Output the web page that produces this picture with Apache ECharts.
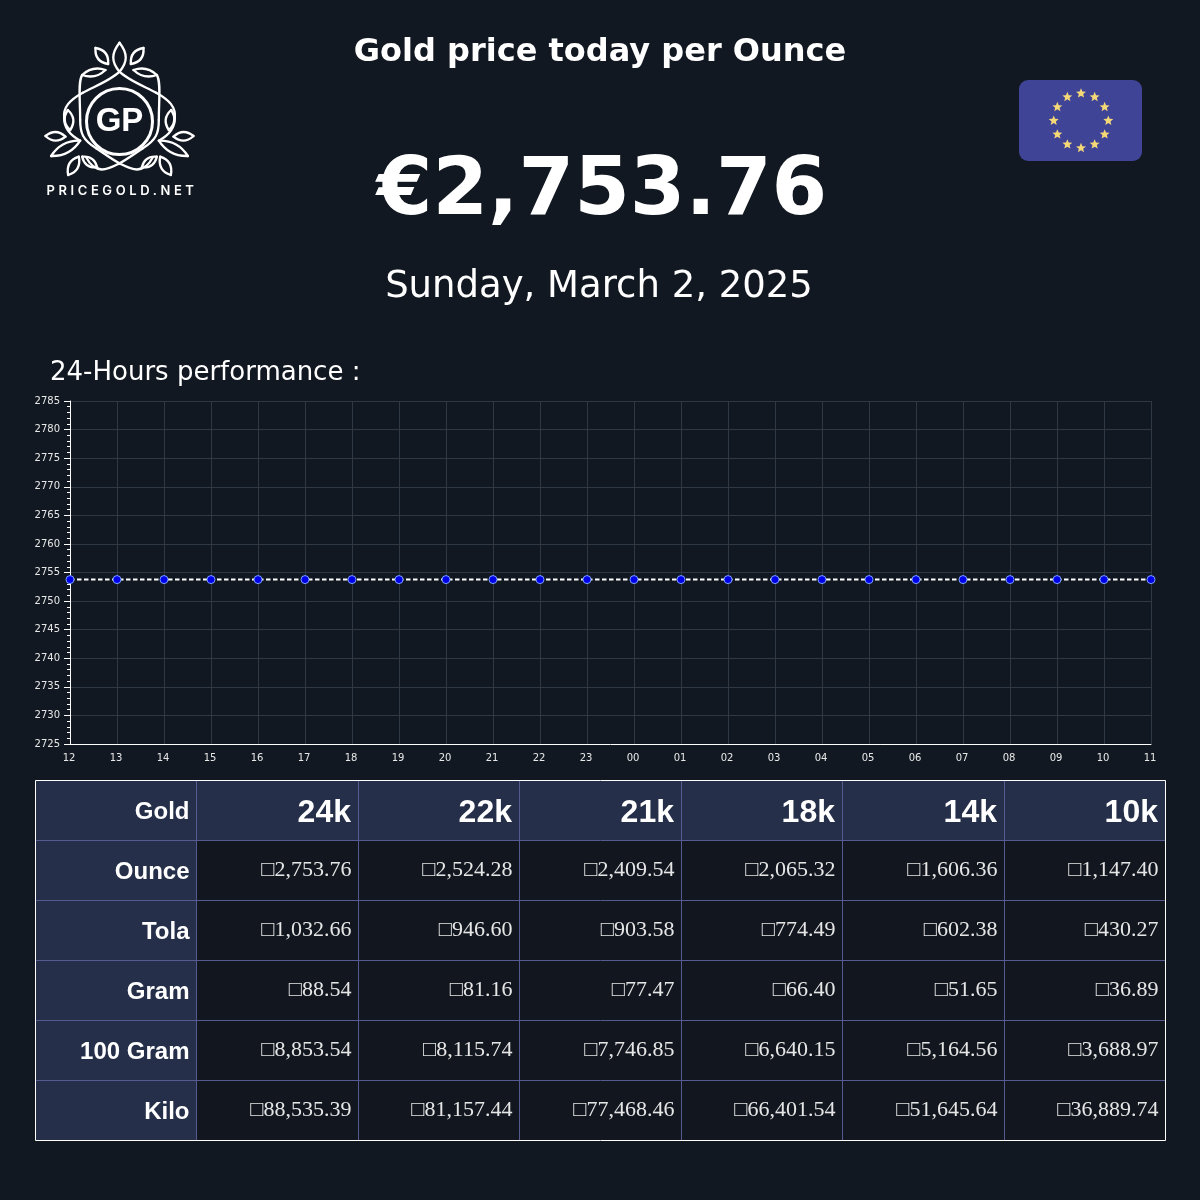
<!DOCTYPE html>
<html>
<head>
<meta charset="utf-8">
<title>Gold price today per Ounce</title>
<script src="https://cdn.jsdelivr.net/npm/echarts@6/dist/echarts.min.js"></script>
<style>
  html, body { margin: 0; padding: 0; background: #121821; }
  #main { width: 1200px; height: 1200px; }
  #brand {
    position: absolute; left: 20px; top: 182px; width: 204px; text-align: center;
    color: #fff; font: 600 13px Inter, sans-serif; letter-spacing: 3.6px;
  }
</style>
</head>
<body>
<div id="main"></div>
<div id="brand">PRICEGOLD.NET</div>
<script>
var hours = ['12','13','14','15','16','17','18','19','20','21','22','23','00','01','02','03','04','05','06','07','08','09','10','11']
var prices = [2753.76,2753.76,2753.76,2753.76,2753.76,2753.76,2753.76,2753.76,2753.76,2753.76,2753.76,2753.76,
  2753.76,2753.76,2753.76,2753.76,2753.76,2753.76,2753.76,2753.76,2753.76,2753.76,2753.76,2753.76]

var karats = ['24k','22k','21k','18k','14k','10k']
var units = ['Ounce','Tola','Gram','100 Gram','Kilo']
var ounceRow = ['2,753.76','2,524.28','2,409.54','2,065.32','1,606.36','1,147.40']
var tolaRow = ['1,032.66','946.60','903.58','774.49','602.38','430.27']
var gramRow = ['88.54','81.16','77.47','66.40','51.65','36.89']
var gram100Row = ['8,853.54','8,115.74','7,746.85','6,640.15','5,164.56','3,688.97']
var kiloRow = ['88,535.39','81,157.44','77,468.46','66,401.54','51,645.64','36,889.74']
var rows = [ounceRow, tolaRow, gramRow, gram100Row, kiloRow]
var missingGlyph = '\u25A1'

var BG = '#121821'
var HEAD = '#252f49'
var CELL = '#12171f'
var RULE = '#555b90'
var GRIDLINE = '#2f3945'
var SANS = '"DejaVu Sans", sans-serif'
var ARIAL = '"Liberation Sans", sans-serif'
var SERIF = '"Liberation Serif", serif'

var colX = [35.5, 196.5, 358.5, 519.5, 681.5, 842.5, 1004.5, 1165.5]
var rowY = [780.5, 840.5, 900.5, 960.5, 1020.5, 1080.5, 1140.5]

function label(text, x, y, font, color, align) {
  return {
    type: 'text', x: x, y: y, silent: true, z: 10,
    style: { text: text, font: font, fill: color || '#fff', textAlign: align || 'center', textVerticalAlign: 'middle' }
  }
}

// table: fills first, then rules, then text
function buildTable() {
  var out = []
  for (var r = 0; r < 6; r++) {
    for (var c = 0; c < 7; c++) {
      var head = r === 0 || c === 0
      out.push({ type: 'rect', silent: true, shape: { x: colX[c], y: rowY[r], width: colX[c + 1] - colX[c], height: 60 },
        style: { fill: head ? HEAD : CELL } })
    }
  }
  colX.slice(1, 7).forEach(function (x) {
    out.push({ type: 'line', silent: true, shape: { x1: x, y1: rowY[0], x2: x, y2: rowY[6] }, style: { stroke: RULE, lineWidth: 1 } })
  })
  rowY.slice(1, 6).forEach(function (y) {
    out.push({ type: 'line', silent: true, shape: { x1: colX[0], y1: y, x2: colX[7], y2: y }, style: { stroke: RULE, lineWidth: 1 } })
  })
  out.push({ type: 'rect', silent: true, z: 5, shape: { x: colX[0], y: rowY[0], width: colX[7] - colX[0], height: 360 },
    style: { fill: 'none', stroke: '#fff', lineWidth: 1 } })

  out.push(label('Gold', 189.5, 812, 'bold 24px ' + ARIAL, '#fff', 'right'))
  karats.forEach(function (k, c) {
    out.push(label(k, colX[c + 2] - 7.5, 813, 'bold 32px ' + ARIAL, '#fff', 'right'))
  })
  units.forEach(function (u, r) {
    out.push(label(u, 189.5, rowY[r + 1] + 31.5, 'bold 24px ' + ARIAL, '#fff', 'right'))
    rows[r].forEach(function (v, c) {
      out.push(label(missingGlyph + v, colX[c + 2] - 7, rowY[r + 1] + 29.5, '22px ' + SERIF, '#e6e6e6', 'right'))
    })
  })
  return out
}

// logo, right half only, mirrored for the left
// vines: start point, then cubic segments of 6 numbers
var logoVines = [
  [0,68, -25,100,-25,125,0,155, 22,178,65,195,110,218, 150,240,170,262,166,295, 166,320,150,345,118,362],
  [112,165, 125,185,118,240,118,300, 118,340,110,360,70,385, 40,405,20,420,0,430, -30,445,-70,470,-100,412]
]
// leaves: tip, tip, half width
var logoLeaves = [
  [42,150, 112,165, 11],
  [118,362, 205,408, 14],
  [162,350, 222,348, 13],
  [155,270, 148,330, 13],
  [34,132, 72,84, 14],
  [122,410, 154,465, 14],
  [67,442, 112,410, 12]
]

function leafToCurve(l) {
  var dx = l[2] - l[0], dy = l[3] - l[1], len = Math.sqrt(dx * dx + dy * dy)
  var nx = -dy / len * l[4] * 1.33, ny = dx / len * l[4] * 1.33
  return [l[0], l[1],
    l[0] + dx / 3 + nx, l[1] + dy / 3 + ny, l[0] + dx * 2 / 3 + nx, l[1] + dy * 2 / 3 + ny, l[2], l[3],
    l[0] + dx * 2 / 3 - nx, l[1] + dy * 2 / 3 - ny, l[0] + dx / 3 - nx, l[1] + dy / 3 - ny, l[0], l[1]]
}

function buildLogo() {
  var curves = logoVines.concat(logoLeaves.map(leafToCurve))
  function half(sx) {
    var kids = []
    curves.forEach(function (p) {
      for (var i = 2; i + 5 < p.length; i += 6) {
        kids.push({
          type: 'bezierCurve',
          shape: { x1: p[i - 2], y1: p[i - 1], cpx1: p[i], cpy1: p[i + 1], cpx2: p[i + 2], cpy2: p[i + 3], x2: p[i + 4], y2: p[i + 5] },
          style: { fill: 'none', stroke: '#fff', lineWidth: 7, lineCap: 'round' }
        })
      }
    })
    return { type: 'group', x: 119.5, y: 20, scaleX: sx / 3, scaleY: 1 / 3, silent: true, children: kids }
  }
  return [
    half(1), half(-1),
    { type: 'circle', silent: true, shape: { cx: 119.5, cy: 121.5, r: 33 }, style: { fill: BG, stroke: '#fff', lineWidth: 3 }, z: 3 },
    Object.assign(label('GP', 119.5, 122, 'bold 33px ' + ARIAL), { z: 4 })
  ]
}

function buildFlag() {
  var out = [{ type: 'rect', silent: true, shape: { x: 1019, y: 80, width: 123, height: 81, r: 9 }, style: { fill: '#3f4497' } }]
  for (var i = 0; i < 12; i++) {
    var a = i * Math.PI / 6
    var pts = []
    for (var k = 0; k < 10; k++) {
      var rad = k % 2 ? 2.3 : 5.2
      var b = k * Math.PI / 5
      pts.push([1081 + 27.3 * Math.sin(a) + rad * Math.sin(b), 120.7 - 27.3 * Math.cos(a) - rad * Math.cos(b)])
    }
    out.push({ type: 'polygon', silent: true, shape: { points: pts }, style: { fill: '#f6d977' } })
  }
  return out
}

var headline = [
  label('Gold price today per Ounce', 600, 53, 'bold 32px ' + SANS),
  label('\u20AC2,753.76', 602, 193, 'bold 80px ' + SANS),
  label('Sunday, March 2, 2025', 599, 287, '37px ' + SANS),
  label('24-Hours performance :', 50, 373, '26px ' + SANS, '#fff', 'left')
]

var myChart = echarts.init(document.getElementById('main'))

var option = {
  animation: false,
  backgroundColor: BG,
  grid: { left: 70, right: 49, top: 401, bottom: 456 },
  xAxis: {
    type: 'category',
    data: hours,
    boundaryGap: false,
    axisLine: { lineStyle: { color: '#fff', width: 1 } },
    axisTick: { show: false },
    axisLabel: {
      color: '#e8e8e8', fontSize: 10, fontFamily: 'DejaVu Sans', interval: 0, margin: 9,
      padding: [0, 2, 0, 0]
    },
    splitLine: { show: true, interval: 0, lineStyle: { color: GRIDLINE, width: 1 } }
  },
  yAxis: {
    type: 'value',
    min: 2725,
    max: 2785,
    interval: 5,
    axisLine: { show: true, lineStyle: { color: '#fff', width: 1 } },
    axisTick: { show: true, length: 6, lineStyle: { color: '#fff' } },
    minorTick: { show: true, splitNumber: 5, length: 3, lineStyle: { color: '#fff' } },
    axisLabel: {
      color: '#e8e8e8', fontSize: 10, fontFamily: 'DejaVu Sans', margin: 10,
      formatter: function (v) { return String(v) }
    },
    splitLine: { show: true, lineStyle: { color: GRIDLINE, width: 1 } }
  },
  series: [
    {
      type: 'line',
      data: prices,
      clip: false,
      showSymbol: true,
      showAllSymbol: true,
      symbol: 'circle',
      symbolSize: 8,
      lineStyle: { color: '#fff', width: 2, type: [4.5, 2.5] },
      itemStyle: { color: '#0000e6', borderColor: '#7aa2ff', borderWidth: 1 }
    }
  ],
  graphic: { elements: [].concat(headline, buildLogo(), buildFlag(), buildTable()) }
}

myChart.setOption(option)
</script>
</body>
</html>
